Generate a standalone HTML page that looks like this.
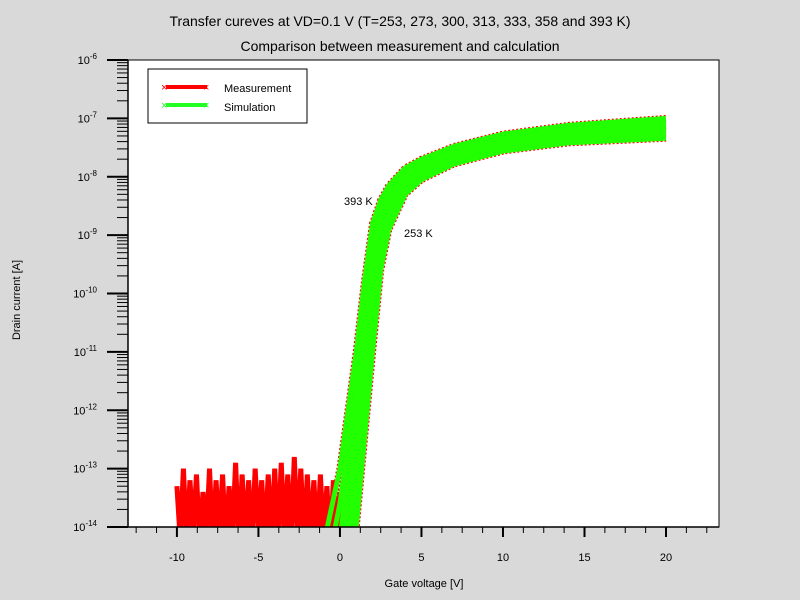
<!DOCTYPE html>
<html><head><meta charset="utf-8"><style>
html,body{margin:0;padding:0;width:800px;height:600px;overflow:hidden;background:#d9d9d9;}
svg{display:block;font-family:"Liberation Sans",sans-serif;}
</style></head><body>
<svg id="chart" width="800" height="600">
<rect x="0" y="0" width="800" height="600" fill="#d9d9d9"/>
<text x="400" y="26" text-anchor="middle" font-size="14">Transfer cureves at VD=0.1 V (T=253, 273, 300, 313, 333, 358 and 393 K)</text>
<text x="400" y="51" text-anchor="middle" font-size="14">Comparison between measurement and calculation</text>
<rect x="128" y="60" width="591" height="467" fill="#fff" stroke="#000" stroke-width="1"/>
<defs><clipPath id="clip"><rect x="128" y="60" width="591" height="467"/></clipPath></defs>
<g id="series" clip-path="url(#clip)"></g>
<g id="axes"></g>
<text x="424" y="587" text-anchor="middle" font-size="11">Gate voltage [V]</text>
<text transform="translate(20,300) rotate(-90)" text-anchor="middle" font-size="11">Drain current [A]</text>
<text x="344" y="205" font-size="11">393 K</text>
<text x="404" y="237" font-size="11">253 K</text>
<g>
<rect x="148" y="69" width="159" height="54" fill="#fff" stroke="#000"/>
<line x1="166" y1="87" x2="207" y2="87" stroke="#f00" stroke-width="4"/>
<text x="161" y="91" font-size="11" fill="#f00">×</text><text x="203" y="91" font-size="11" fill="#f00">×</text>
<text x="224" y="92" font-size="11">Measurement</text>
<line x1="166" y1="105" x2="207" y2="105" stroke="#2f2" stroke-width="4"/>
<text x="161" y="109" font-size="11" fill="#2f2">×</text><text x="203" y="109" font-size="11" fill="#2f2">×</text>
<text x="224" y="111" font-size="11">Simulation</text>
</g>
</svg>
<script>
const vg=[-1,0,0.5,1,1.5,2,2.5,3,4,5,7,10,14,20];
const temps=[393,358,333,313,300,273,253];
const logI393=[-14.3,-13,-12,-11,-9.8,-8.8,-8.4,-8.15,-7.85,-7.7,-7.48,-7.27,-7.12,-7.0];
const logI358=[-15,-13.6,-12.6,-11.6,-10.3,-9.1,-8.55,-8.25,-7.92,-7.75,-7.53,-7.32,-7.16,-7.05];
const logI333=[-15.5,-14.2,-13.1,-12.1,-10.7,-9.4,-8.7,-8.35,-8.0,-7.8,-7.58,-7.37,-7.2,-7.1];
const logI313=[-16,-14.7,-13.6,-12.5,-11.1,-9.7,-8.85,-8.45,-8.05,-7.85,-7.62,-7.41,-7.24,-7.14];
const logI300=[-16.5,-15,-14,-12.9,-11.5,-10,-9.0,-8.55,-8.1,-7.9,-7.66,-7.45,-7.28,-7.19];
const logI273=[-17,-15.6,-14.6,-13.4,-12,-10.5,-9.3,-8.7,-8.2,-7.97,-7.72,-7.5,-7.34,-7.26];
const logI253=[-17.5,-16,-15,-14,-12.5,-11,-9.6,-8.9,-8.3,-8.05,-7.78,-7.56,-7.42,-7.34];
const noiseVg=[-10,-9.8,-9.6,-9.4,-9.2,-9,-8.8,-8.6,-8.4,-8.2,-8,-7.8,-7.6,-7.4,-7.2,-7,-6.8,-6.6,-6.4,-6.2,-6,-5.8,-5.6,-5.4,-5.2,-5,-4.8,-4.6,-4.4,-4.2,-4,-3.8,-3.6,-3.4,-3.2,-3,-2.8,-2.6,-2.4,-2.2,-2,-1.8,-1.6,-1.4,-1.2,-1,-0.8,-0.6,-0.4,-0.2,0];
const noiseLog=[-13.3,-14.2,-13.0,-14.3,-13.2,-14.1,-13.1,-14.3,-13.4,-14.2,-13.0,-14.3,-13.2,-14.2,-13.1,-14.3,-13.3,-14.2,-12.9,-14.3,-13.1,-14.2,-13.2,-14.3,-13.0,-14.1,-13.2,-14.3,-13.1,-14.2,-13.0,-14.3,-12.9,-14.2,-13.1,-14.3,-12.8,-14.2,-13.0,-14.3,-13.1,-14.2,-13.2,-14.3,-13.1,-14.2,-13.3,-14.3,-13.2,-14.2,-13.4];
const xTicks=[-10,-5,0,5,10,15,20];
const yDecades=[-6,-7,-8,-9,-10,-11,-12,-13,-14];
const X0=128,X1=719,Y0=60,Y1=527,XMIN=-13,XMAX=23.25,YMIN=-14,YMAX=-6;
const xs=v=>X0+(v-XMIN)/(XMAX-XMIN)*(X1-X0);
const ys=l=>Y1-(l-YMIN)/(YMAX-YMIN)*(Y1-Y0);
const NS="http://www.w3.org/2000/svg";
const g=document.getElementById('series'),ax=document.getElementById('axes');
function mk(tag,attrs,parent){const e=document.createElementNS(NS,tag);for(const k in attrs)e.setAttribute(k,attrs[k]);parent.appendChild(e);return e;}
const meas=[logI393,logI358,logI333,logI313,logI300,logI273,logI253];
let np=noiseVg.map((v,i)=>xs(v)+','+ys(noiseLog[i])).join(' ');
const nz=mk('polyline',{points:np,fill:'none',stroke:'#f00','stroke-width':5,'stroke-linejoin':'miter'},g);


meas.forEach((arr,k)=>{
  const p=vg.map((v,i)=>xs(v)+','+ys(arr[i])).join(' ');
  const r=mk('polyline',{points:p,fill:'none',stroke:'#f00','stroke-width':7,'stroke-dasharray':'2 2'},g);
  
  
});
meas.forEach((arr,k)=>{
  const p=vg.map((v,i)=>xs(v)+','+ys(arr[i])).join(' ');
  const s=mk('polyline',{points:p,fill:'none',stroke:'#2f0','stroke-width':5},g);
  
  
});
mk('line',{x1:X0,y1:Y0,x2:X0,y2:Y1,stroke:'#000','stroke-width':1.5},ax);
mk('line',{x1:X0,y1:Y1,x2:X1,y2:Y1,stroke:'#000','stroke-width':1.5},ax);
yDecades.forEach(d=>{
  const y=ys(d);
  mk('line',{x1:107,y1:y,x2:X0,y2:y,stroke:'#000','stroke-width':2},ax);
  const t=mk('text',{x:97,y:y+4,'text-anchor':'end','font-size':11},ax);
  
  
  t.textContent='10';
  const s=mk('tspan',{dy:-5,'font-size':8},t);s.textContent=String(d);
  if(d>YMIN){for(let m=2;m<10;m++){const ym=ys(d-1+Math.log10(m));mk('line',{x1:117,y1:ym,x2:X0,y2:ym,stroke:'#000','stroke-width':1},ax);}}
});
for(let v=-12.5;v<=22.5;v+=1.25){
  const x=xs(v);const major=xTicks.includes(v);
  mk('line',{x1:x,y1:Y1,x2:x,y2:major?537:533,stroke:'#000','stroke-width':major?2:1},ax);
}
xTicks.forEach(v=>{
  const t=mk('text',{x:xs(v),y:561,'text-anchor':'middle','font-size':11},ax);
  
  
  t.textContent=String(v);
});
</script>
</body></html>
